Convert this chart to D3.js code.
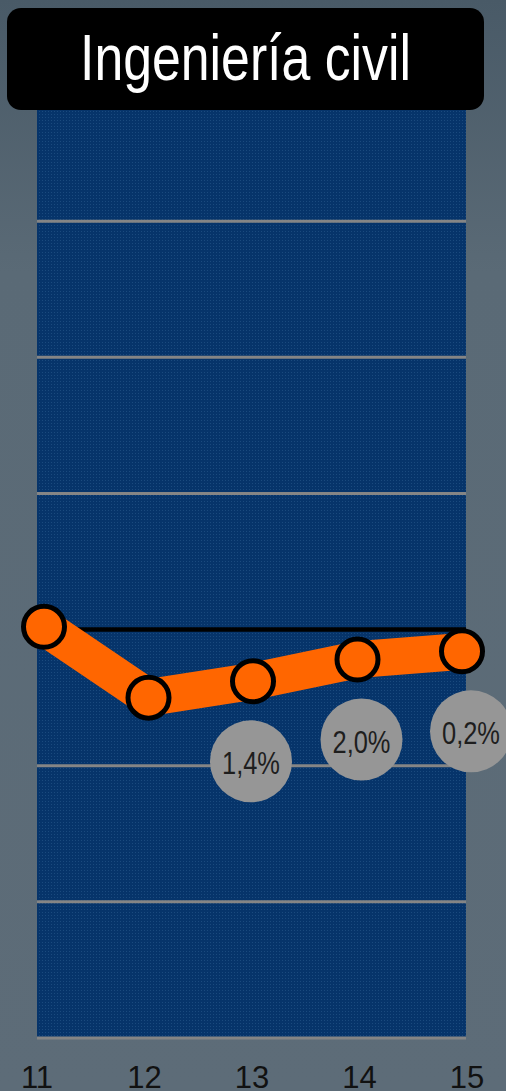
<!DOCTYPE html>
<html><head><meta charset="utf-8">
<script src="https://cdn.jsdelivr.net/npm/d3@7"></script>
<style>html,body{margin:0;padding:0;background:#5b6a76;overflow:hidden}</style>
</head><body>
<svg id="c" width="506" height="1091"></svg>
<script>
const title = "Ingeniería civil";
const years = ["11", "12", "13", "14", "15"];
const values = [0.1, -2.5, -1.9, -1.1, -0.8];
const growthLabels = [null, null, "1,4%", "2,0%", "0,2%"];
const gridTicks = [-15, -10, -5, 5, 10, 15];

const W = 506, H = 1091;
const plot = {left: 37, right: 466, top: 85, bottom: 1038};
const svg = d3.select("#c");
const defs = svg.append("defs");

const bg = defs.append("linearGradient").attr("id", "bg").attr("x1", 0).attr("x2", 0).attr("y1", 0).attr("y2", 1);
bg.append("stop").attr("offset", "0").attr("stop-color", "#495a67");
bg.append("stop").attr("offset", "0.25").attr("stop-color", "#5a6a76");
bg.append("stop").attr("offset", "1").attr("stop-color", "#5d6c78");
svg.append("rect").attr("width", W).attr("height", H).attr("fill", "url(#bg)");

const pat = defs.append("pattern").attr("id", "dots").attr("width", 3).attr("height", 3).attr("patternUnits", "userSpaceOnUse");
pat.append("rect").attr("width", 3).attr("height", 3).attr("fill", "#06346a");
pat.append("rect").attr("width", 1).attr("height", 1).attr("fill", "#1a4a7e");

const y = d3.scaleLinear().domain([-15, 20]).range([plot.bottom, plot.top]);
const xPt = d3.scalePoint().domain(years).range([44, 462]);
const xLab = d3.scalePoint().domain(years).range([37, 467]);

svg.append("rect").attr("x", plot.left).attr("y", plot.top)
  .attr("width", plot.right - plot.left).attr("height", plot.bottom - plot.top)
  .attr("fill", "url(#dots)");

svg.append("g").selectAll("line").data(gridTicks).join("line")
  .attr("x1", plot.left).attr("x2", plot.right)
  .attr("y1", d => y(d)).attr("y2", d => y(d))
  .attr("stroke", "#858585").attr("stroke-width", 3);

svg.append("line").attr("x1", xPt(years[0])).attr("x2", plot.right)
  .attr("y1", y(0)).attr("y2", y(0)).attr("stroke", "#000").attr("stroke-width", 4.5);

const data = years.map((k, i) => ({k, v: values[i], lab: growthLabels[i]}));
svg.append("path").datum(data)
  .attr("d", d3.line().x(d => xPt(d.k)).y(d => y(d.v)))
  .attr("fill", "none").attr("stroke", "#ff6600").attr("stroke-width", 37)
  .attr("stroke-linejoin", "miter");

svg.append("g").selectAll("circle").data(data).join("circle")
  .attr("cx", d => xPt(d.k)).attr("cy", d => y(d.v)).attr("r", 20.5)
  .attr("fill", "#ff6600").attr("stroke", "#000").attr("stroke-width", 5);

const labDx = [0, 0, -2, 4, 9];
const bub = svg.append("g").selectAll("g").data(data.filter(d => d.lab)).join("g")
  .attr("transform", d => `translate(${xPt(d.k) + labDx[years.indexOf(d.k)]},${y(d.v) + 80})`);
bub.append("circle").attr("r", 41).attr("fill", "#969696");
bub.append("text").text(d => d.lab).attr("text-anchor", "middle").attr("y", 13)
  .attr("font-family", "'Liberation Sans',Arial,sans-serif")
  .attr("font-size", 32).attr("fill", "#1e1e1e")
  .attr("textLength", 58).attr("lengthAdjust", "spacingAndGlyphs");

svg.append("g").selectAll("text").data(years).join("text")
  .attr("x", d => xLab(d)).attr("y", 1088).attr("text-anchor", "middle")
  .attr("font-family", "'Liberation Sans',Arial,sans-serif").attr("font-size", 31)
  .attr("fill", "#111").text(d => d);

svg.append("rect").attr("x", 7).attr("y", 8).attr("width", 477).attr("height", 102)
  .attr("rx", 14).attr("fill", "#000");
svg.append("text").attr("x", 245.5).attr("y", 80).attr("text-anchor", "middle")
  .attr("font-family", "'Liberation Sans',Arial,sans-serif")
  .attr("font-size", 65).attr("fill", "#fff")
  .attr("textLength", 331).attr("lengthAdjust", "spacingAndGlyphs").text(title);
</script>
</body></html>
